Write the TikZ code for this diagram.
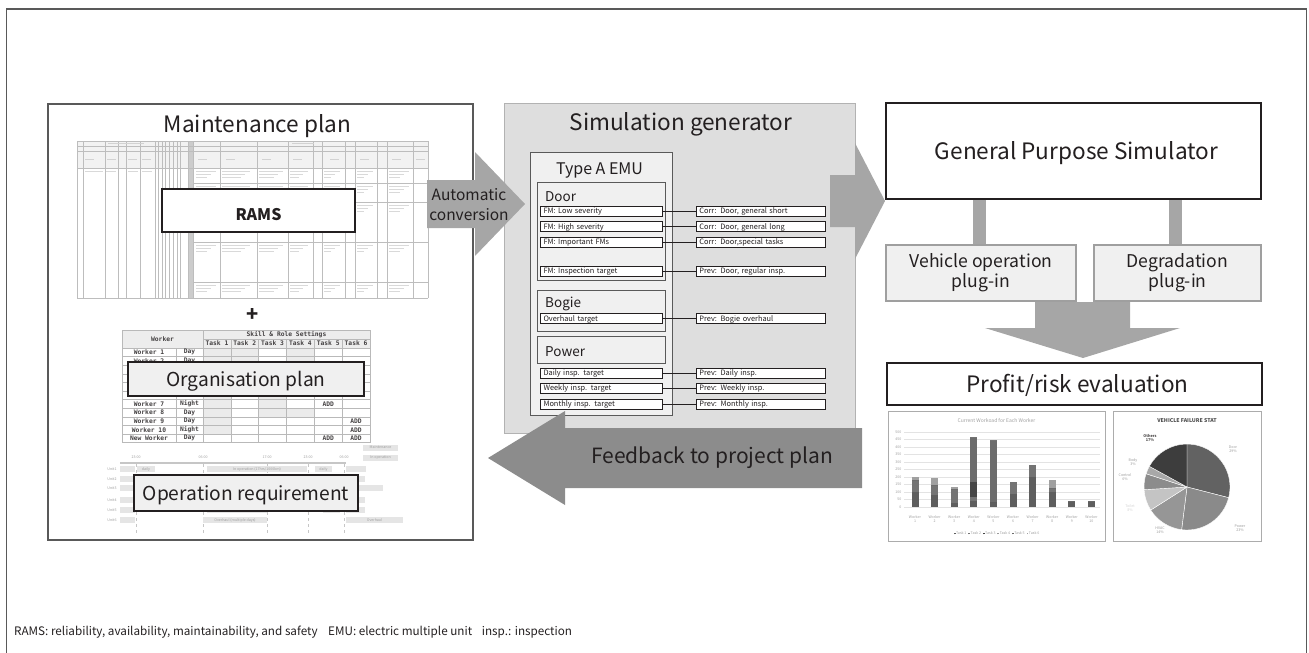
\documentclass[tikz,border=0pt]{standalone}
\usepackage{fontspec}
\setmainfont{Noto Sans CJK JP}
\newfontfamily\sheetfont{DejaVu Sans Mono}
\usetikzlibrary{positioning}

\definecolor{ink}{HTML}{231F20}
\definecolor{framegray}{HTML}{595959}
\definecolor{arrowgray}{HTML}{A6A6A6}
\definecolor{backgray}{HTML}{8C8C8C}
\definecolor{panelgray}{HTML}{DEDEDE}
\definecolor{boxgray}{HTML}{F0F0F0}
\definecolor{sheetgray}{HTML}{BDBDBD}

\newcommand\legendsq[1]{\textcolor[HTML]{#1}{\rule{1.8pt}{1.8pt}}\,}

\tikzset{
  bigtext/.style={font=\fontsize{22.6}{26}\selectfont, text=ink},
  panel/.style={draw=framegray, line width=1.2pt, inner sep=0pt},
  labelbox/.style={draw=ink, line width=1.3pt, fill=boxgray, inner sep=0pt, font=\fontsize{19.2}{22}\selectfont, text=ink, text height=14pt, text depth=0pt},
  groupbox/.style={draw=framegray, line width=1pt, fill=boxgray, minimum width=128pt, inner sep=0pt},
  grouptext/.style={font=\fontsize{13.5}{15}\selectfont, text=ink, anchor=base west, inner sep=0pt},
  fmbox/.style={draw=ink, line width=0.9pt, fill=white, inner xsep=3pt, inner ysep=0pt, minimum height=10pt, text width=116pt, align=left, font=\fontsize{7.4}{8}\selectfont, text=ink, text height=5.4pt, text depth=0pt},
  taskbox/.style={fmbox, text width=123pt},
  tie/.style={draw=ink, line width=0.9pt},
  simbox/.style={draw=ink, line width=2pt, fill=white, inner sep=0pt, font=\fontsize{22.6}{26}\selectfont, text=ink, text height=16.5pt, text depth=0pt},
  plugbox/.style={draw=gray!75, line width=1.5pt, fill=boxgray, inner sep=0pt, font=\fontsize{17.6}{20}\selectfont, text=ink, align=center},
  plugbar/.style={arrowgray, line width=13pt},
  tinytext/.style={font=\fontsize{3.6}{4.2}\selectfont, text=gray!75, inner sep=0.5pt},
  ganttbar/.style={fill=gray!20, tinytext, minimum height=6pt, inner sep=0pt},
  sheettext/.style={font=\sheetfont\bfseries\fontsize{6.3}{7}\selectfont, text=ink!85, inner sep=0pt},
  pielabel/.style={tinytext, align=center, text=gray!80},
  chartframe/.style={draw=gray!65, line width=1pt, inner sep=0pt},
}

\begin{document}
\begin{tikzpicture}[x=1pt,y=-1pt]
  \useasboundingbox (0,0) rectangle (1309,653);
  \draw[framegray, line width=1.2pt] (6.5,9) rectangle (1306.5,700);

  % maintenance plan
  \node[panel, fill=white, minimum width=425pt, minimum height=436pt] (maint) at (260.5,322) {};
  \node[bigtext, anchor=base] (mainttitle) at (257.5,132) {Maintenance plan};

  % RAMS sheet
  \fill[gray!10] (77,141) rectangle (428,168);
  \fill[gray!40] (188,141) rectangle (193,298);
  \foreach \x in {77,83,105,118,126,140,155,158,162,165,169,173,177,180,188,193,220,257,288,313,322,345,355,377,387,413,428}
    \draw[sheetgray, line width=0.35pt] (\x,141) -- (\x,298);
  \foreach \y in {141,146,151,168,298} \draw[sheetgray, line width=0.35pt] (77,\y) -- (428,\y);
  \foreach \y in {183,202,242,282} \draw[sheetgray, line width=0.35pt] (193,\y) -- (428,\y);
  \foreach \y in {171,186,205,245,285}
    \foreach \x/\w in {196/20,222/28,259/24,290/18,324/16,357/16,389/20} {
      \fill[gray!30] (\x,\y) rectangle ++(\w,1.1);
      \fill[gray!30] (\x,\y+3) rectangle ++(\w-5,1.1);
      \fill[gray!30] (\x,\y+6) rectangle ++(\w-9,1.1);
    }
  \foreach \x/\w in {85/18,106/10,128/10,142/10}
    \fill[gray!30] (\x,171) rectangle ++(\w,1.1);
  \foreach \x in {85,107,128,142,198,226,262,293,330,360,392,416}
    \fill[gray!35] (\x,159) rectangle ++(9,1.2);
  \fill[gray!35] (108,142.5) rectangle ++(36,1.1);
  \fill[gray!35] (292,142.5) rectangle ++(22,1.1);
  \node[labelbox, fill=white, minimum width=193pt, minimum height=43pt, font=\bfseries\fontsize{16}{19}\selectfont, text height=19pt] (rams) at (258.5,210.5) {RAMS};

  \node[font=\bfseries\fontsize{20}{20}\selectfont, text=ink] (plus) at (253,315) {+};

  % skill & role sheet
  \fill[gray!14] (122,330) rectangle (370,348);
  \foreach \r/\c in {1/1,1/2,1/4,2/1,2/2,2/4,6/1,6/3,7/1,7/3,8/1,8/3,8/4,9/1,10/1}
    \fill[gray!16] ({203+(\c-1)*27.83},{348+(\r-1)*8.6}) rectangle ++(27.83,8.6);
  \foreach \r in {0,...,11} \draw[gray!55, line width=0.4pt] (122,{348+\r*8.6}) -- (370,{348+\r*8.6});
  \draw[gray!55, line width=0.4pt] (122,330) rectangle (370,442.6);
  \draw[gray!55, line width=0.4pt] (203,339) -- (370,339);
  \draw[gray!55, line width=0.4pt] (203,330) -- (203,442.6);
  \draw[gray!55, line width=0.4pt] (176,348) -- (176,442.6);
  \foreach \c in {1,...,5} \draw[gray!55, line width=0.4pt] ({203+\c*27.83},339) -- ({203+\c*27.83},442.6);
  \node[sheettext] (worker) at (162.5,339) {Worker};
  \node[sheettext] (skill) at (286.5,334.5) {Skill \& Role Settings};
  \foreach \c in {1,...,6} \node[sheettext] (task\c) at ({203+(\c-0.5)*27.83},343.5) {Task \c};
  \foreach \n/\s/\r in {Worker 1/Day/1,Worker 2/Day/2,Worker 7/Night/7,Worker 8/Day/8,Worker 9/Day/9,Worker 10/Night/10,New Worker/Day/11} {
    \node[sheettext] (wname\r) at (149,{352.3+(\r-1)*8.6}) {\n};
    \node[sheettext] (wshift\r) at (189.5,{352.3+(\r-1)*8.6}) {\s};
  }
  \foreach \r/\c in {7/5,9/6,10/6,11/5,11/6}
    \node[sheettext] (add\r\c) at ({203+(\c-0.5)*27.83},{352.3+(\r-1)*8.6}) {ADD};
  \node[labelbox, minimum width=236pt, minimum height=34pt] (orgplan) at (246,379) {Organisation plan};

  % operation timetable
  \node[ganttbar, minimum width=35pt] (legmaint) at (380.5,447.5) {Maintenance};
  \node[ganttbar, minimum width=35pt] (legoper) at (380.5,457.5) {In operation};
  \draw[gray!45, line width=1.5pt] (120,463) -- (346,463);
  \foreach \x/\t [count=\i] in {136/23:00,203/06:00,267/17:00,308/23:00,344/06:00} {
    \node[tinytext] (hour\i) at (\x,457) {\t};
    \draw[gray!45, dashed, line width=0.4pt] (\x,464) -- (\x,535);
  }
  \foreach \i/\y in {1/469,2/479,3/488,4/500,5/510,6/520} {
    \node[tinytext] (unit\i) at (112,\y) {Unit\i};
    \node[ganttbar, minimum width=15pt] (lead\i) at (127.5,\y) {};
  }
  \node[ganttbar, minimum width=18pt] (daily1) at (146,469) {daily};
  \node[ganttbar, minimum width=100pt] (run1) at (257,469) {In operation (17hrs/1000km)};
  \node[ganttbar, minimum width=17pt] (daily2) at (323.5,469) {daily};
  \node[ganttbar, minimum width=20pt] (next1) at (356,469) {};
  \node[ganttbar, minimum width=19pt] (next2) at (355.5,479) {};
  \node[ganttbar, minimum width=16pt] (next3) at (355,488) {};
  \node[ganttbar, minimum width=20pt] (next3b) at (373,488) {};
  \node[ganttbar, minimum width=19pt] (next4) at (355.5,500) {};
  \node[ganttbar, minimum width=60pt] (run5) at (237,510) {};
  \node[ganttbar, minimum width=17pt] (daily5) at (331.5,510) {daily};
  \node[ganttbar, minimum width=19pt] (next5) at (355.5,510) {};
  \node[ganttbar, minimum width=64pt] (ovh6) at (235,520) {Overhaul (multiple days)};
  \node[ganttbar, minimum width=57pt] (next6) at (374.5,520) {Overhaul};
  \node[labelbox, minimum width=224pt, minimum height=36pt] (opreq) at (246,493) {Operation requirement};

  % simulation generator
  \node[panel, draw=gray!60, line width=1pt, fill=panelgray, minimum width=351pt, minimum height=330pt] (gen) at (679.5,268) {};
  \node[bigtext, anchor=base] (gentitle) at (681,130) {Simulation generator};
  \node[groupbox, draw=framegray, fill=boxgray, minimum width=142pt, minimum height=263pt] (emu) at (601,283.5) {};
  \node[font=\fontsize{16}{19}\selectfont, text=ink, anchor=base] (emutitle) at (599.5,174) {Type A EMU};
  \node[groupbox, minimum height=98pt] (door) at (601,231) {};
  \node[groupbox, minimum height=41pt] (bogie) at (601,310.5) {};
  \node[groupbox, minimum height=27pt] (power) at (601,349.5) {};
  \node[grouptext] (doortitle) at (545,201) {Door};
  \node[grouptext] (bogietitle) at (545,307) {Bogie};
  \node[grouptext] (powertitle) at (545,356) {Power};

  \foreach \y/\fm/\task [count=\i] in {211/FM: Low severity/Corr: Door{,} general short,
      226.5/FM: High severity/Corr: Door{,} general long,
      242/FM: Important FMs/Corr: Door{,}special tasks,
      271/FM: Inspection target/Prev: Door{,} regular insp.,
      318.5/Overhaul target/Prev: Bogie overhaul,
      373/Daily insp. target/Prev: Daily insp.,
      388/Weekly insp. target/Prev: Weekly insp.,
      404/Monthly insp. target/Prev: Monthly insp.} {
    \node[fmbox] (fm\i) at (601.5,\y) {\fm};
    \node[taskbox, right=33pt of fm\i] (task\i) {\task};
    \draw[tie] (fm\i) -- (task\i);
  }

  \fill[arrowgray] (427,180) -- (475,180) -- (475,152) -- (525,204) -- (475,256) -- (475,228) -- (427,228) -- cycle;
  \node[font=\fontsize{15.5}{20}\selectfont, text=ink, align=center] (autoconv) at (469,205) {Automatic\\conversion};

  \fill[arrowgray] (830,175) -- (855,175) -- (855,143) -- (885,201) -- (855,259) -- (855,227) -- (830,227) -- cycle;

  % simulator and plug-ins
  \node[simbox, minimum width=375pt, minimum height=96pt] (gps) at (1073.5,151) {\hspace{6pt}General Purpose Simulator};
  \node[plugbox, minimum width=190pt, minimum height=56pt] (vop) at (981,273) {Vehicle operation\\plug-in};
  \node[plugbox, minimum width=167pt, minimum height=56pt] (deg) at (1177.5,273) {Degradation\\plug-in};
  \draw[plugbar] (gps.south -| 979.5,0) -- (vop.north -| 979.5,0);
  \draw[plugbar] (gps.south -| 1175.5,0) -- (deg.north -| 1175.5,0);

  \fill[arrowgray] (1035,302) -- (1130,302) -- (1130,328) -- (1180,328) -- (1083,358) -- (985,328) -- (1035,328) -- cycle;

  % evaluation
  \node[simbox, minimum width=375pt, minimum height=42pt] (profit) at (1074.5,384) {\hspace{6pt}Profit/risk evaluation};
  \node[chartframe, minimum width=217pt, minimum height=130pt] (barchart) at (996.5,476) {};
  \node[chartframe, minimum width=148pt, minimum height=130pt] (piechart) at (1187,476) {};

  \node[tinytext, font=\fontsize{5}{6}\selectfont] (bartitle) at (996.5,421) {Current Workoad for Each Worker};
  \foreach \v in {0,50,...,500} {
    \draw[gray!22, line width=0.4pt] (904,{507-\v*0.15}) -- (1100,{507-\v*0.15});
    \node[tinytext, anchor=east] (tick\v) at (902,{507-\v*0.15}) {\v};
  }
  \foreach \k/\a/\b/\c/\d/\e in {1/100/80/0/0/20,2/80/70/0/0/45,3/30/90/0/0/15,4/40/30/100/295/0,5/35/0/0/415/0,
      6/90/80/0/0/0,7/200/80/0/0/0,8/100/30/0/0/50,9/40/0/0/0/0,10/40/0/0/0/0} {
    \pgfmathsetmacro\bx{915+(\k-1)*19.6}
    \fill[fill={rgb,255:red,94;green,94;blue,94}] (\bx-3.5,507) rectangle (\bx+3.5,{507-0.15*\a});
    \fill[fill={rgb,255:red,116;green,116;blue,116}] (\bx-3.5,{507-0.15*\a}) rectangle (\bx+3.5,{507-0.15*(\a+\b)});
    \fill[fill={rgb,255:red,70;green,70;blue,70}] (\bx-3.5,{507-0.15*(\a+\b)}) rectangle (\bx+3.5,{507-0.15*(\a+\b+\c)});
    \fill[fill={rgb,255:red,108;green,108;blue,108}] (\bx-3.5,{507-0.15*(\a+\b+\c)}) rectangle (\bx+3.5,{507-0.15*(\a+\b+\c+\d)});
    \fill[fill={rgb,255:red,160;green,160;blue,160}] (\bx-3.5,{507-0.15*(\a+\b+\c+\d)}) rectangle (\bx+3.5,{507-0.15*(\a+\b+\c+\d+\e)});
    \node[tinytext, align=center] (wk\k) at (\bx,519) {Worker\\\k};
  }
  \node[tinytext] (barlegend) at (996.5,533) {\legendsq{5E5E5E}Task 1\enspace\legendsq{747474}Task 2\enspace\legendsq{464646}Task 3\enspace\legendsq{9A9A9A}Task 4\enspace\legendsq{6C6C6C}Task 5\enspace\legendsq{A0A0A0}Task 6};

  \node[font=\bfseries\fontsize{5.2}{6}\selectfont, text=gray!60!black] (pietitle) at (1187,421) {VEHICLE FAILURE STAT};
  \coordinate (piec) at (1187,487);
  \foreach \s/\e/\col in {0/29/626262,29/52/8A8A8A,52/66/969696,66/74/C4C4C4,74/80/8C8C8C,80/83/A8A8A8,83/100/3D3D3D} {
    \definecolor{slice}{HTML}{\col}
    \filldraw[fill=slice, draw=white, line width=0.4pt] (piec) -- ++({3.6*\s-90}:43) arc[start angle={3.6*\s-90}, end angle={3.6*\e-90}, radius=43] -- cycle;
  }
  \node[pielabel, text=ink!80, font=\bfseries\fontsize{3.8}{4.4}\selectfont] (pothers) at (1150,438) {Others\\17\%};
  \node[pielabel] (pdoor) at (1233,449) {Door\\29\%};
  \node[pielabel] (pbody) at (1133,462) {Body\\3\%};
  \node[pielabel] (pcontrol) at (1125,477) {Control\\6\%};
  \node[pielabel, text=gray!35] (ptoilet) at (1130,508) {Toilet\\8\%};
  \node[pielabel] (phvac) at (1160,530) {HVAC\\14\%};
  \node[pielabel] (ppower) at (1240,528) {Power\\23\%};

  % feedback
  \fill[backgray] (862,428) -- (565,428) -- (565,411) -- (488,458) -- (565,505) -- (565,488) -- (862,488) -- cycle;
  \node[font=\fontsize{21}{24}\selectfont, text=ink] (feedback) at (712,458) {Feedback to project plan};

  \node[anchor=base west, inner sep=0pt, font=\fontsize{11.7}{14}\selectfont, text=ink] (notes) at (14,635)
    {RAMS: reliability, availability, maintainability, and safety\hspace{8pt} EMU: electric multiple unit\hspace{7pt} insp.: inspection};
\end{tikzpicture}
\end{document}
